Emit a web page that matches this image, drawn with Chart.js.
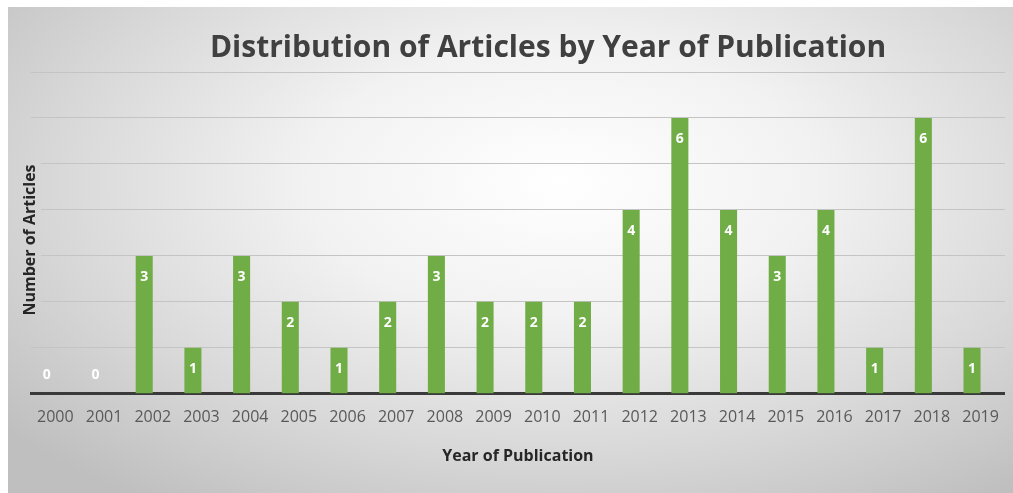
<!DOCTYPE html>
<html>
<head>
<meta charset="utf-8">
<script src="https://cdn.jsdelivr.net/npm/chart.js@4.4.1/dist/chart.umd.min.js"></script>
<style>
  html, body { margin: 0; padding: 0; background: #fff; }
  #wrap { position: relative; width: 1013px; height: 493px; }
  #panel {
    position: absolute; left: 8px; top: 7px; right: 0; bottom: 0;
    background: radial-gradient(ellipse 72% 80% at 55% 36%, #ffffff 0%, #f2f2f2 35%, #d8d8d8 70%, #bfbfbf 100%);
  }
  #chart { position: absolute; left: 0; top: 0; }
</style>
</head>
<body>
<div id="wrap">
  <div id="panel"></div>
  <canvas id="chart" width="1013" height="493"></canvas>
</div>
<script>
// chart data
const years = ['2000', '2001', '2002', '2003', '2004', '2005', '2006', '2007', '2008', '2009',
               '2010', '2011', '2012', '2013', '2014', '2015', '2016', '2017', '2018', '2019'];
const articleCounts = [0, 0, 3, 1, 3, 2, 1, 2, 3, 2, 2, 2, 4, 6, 4, 3, 4, 1, 6, 1];
const emptySeries = [];   // second (empty) Excel series, keeps bars shifted left
const chartTitle = 'Distribution of Articles by Year of Publication';
const yTitle = 'Number of Articles';
const xTitle = 'Year of Publication';

const FONT = "'Open Sans', 'DejaVu Sans', sans-serif";

// titles + value labels drawn by hand so they sit where Excel put them
const textPlugin = {
    id: 'textPlugin',
    beforeDatasetsDraw(chart) {
        const { ctx, chartArea } = chart;
        ctx.save();
        ctx.font = `bold 16px ${FONT}`;
        const w = ctx.measureText(yTitle).width;
        const cy = 240;
        // the axis title box hides the gridlines behind it
        ctx.clearRect(20, cy - w / 2 - 3, 21, w + 6);
        ctx.translate(30, cy);
        ctx.rotate(-Math.PI / 2);
        ctx.fillStyle = '#262626';
        ctx.textAlign = 'center';
        ctx.textBaseline = 'middle';
        ctx.fillText(yTitle, 0, 0);
        ctx.restore();
    },
    afterDraw(chart) {
        const { ctx, chartArea } = chart;
        ctx.save();
        ctx.textAlign = 'center';
        ctx.textBaseline = 'middle';

        ctx.fillStyle = '#404040';
        ctx.font = `bold 30px ${FONT}`;
        ctx.fillText(chartTitle, 548, 48);

        ctx.fillStyle = '#262626';
        ctx.font = `bold 16px ${FONT}`;
        ctx.fillText(xTitle, (chartArea.left + chartArea.right) / 2, 456);

        const meta = chart.getDatasetMeta(0);
        ctx.fillStyle = '#ffffff';
        ctx.font = `bold 14px ${FONT}`;
        meta.data.forEach((bar, i) => {
            const v = articleCounts[i];
            const y = v === 0 ? bar.y - 19 : bar.y + 21;
            ctx.fillText(String(v), bar.x, y);
        });
        ctx.restore();
    },
};

const ctx = document.getElementById('chart').getContext('2d');
new Chart(ctx, {
    type: 'bar',
    data: {
        labels: years,
        datasets: [
            {
                label: 'Articles',
                data: articleCounts,
                backgroundColor: '#70AD47',
                categoryPercentage: 0.7,
                barPercentage: 1,
            },
            {
                label: 'Series 2',
                data: emptySeries,
                backgroundColor: '#70AD47',
                categoryPercentage: 0.7,
                barPercentage: 1,
            },
        ],
    },
    options: {
        responsive: false,
        animation: false,
        layout: {
            padding: { left: 31, right: 6, top: 72, bottom: 52 },
        },
        scales: {
            y: {
                min: 0,
                max: 7,
                ticks: { display: false, stepSize: 1 },
                grid: { color: '#c4c4c4', lineWidth: 1, drawTicks: false },
                border: { display: false },
            },
            x: {
                grid: { display: false, drawTicks: false },
                border: { display: true, color: '#3a3a3a', width: 3 },
                ticks: {
                    color: '#595959',
                    padding: 14,
                    font: { family: FONT, size: 16 },
                    maxRotation: 0,
                    autoSkip: false,
                },
            },
        },
        plugins: {
            legend: { display: false },
            tooltip: { enabled: false },
        },
    },
    plugins: [textPlugin],
});
</script>
</body>
</html>
